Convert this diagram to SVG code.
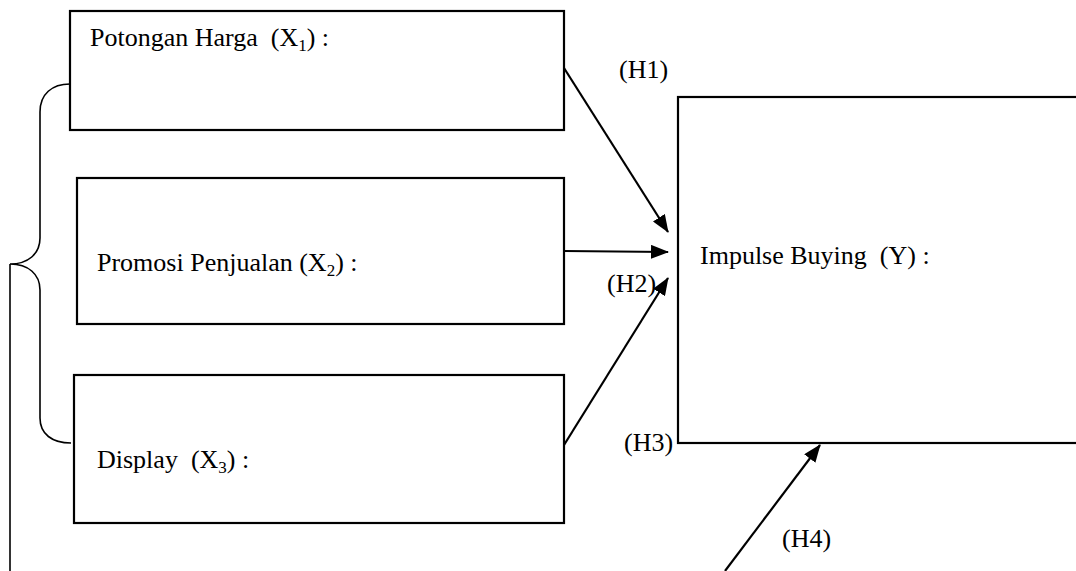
<svg xmlns="http://www.w3.org/2000/svg" width="1076" height="571" viewBox="0 0 1076 571">
<style>
.box{fill:#fff;stroke:#000;stroke-width:2.2}
.t{font-family:"Liberation Serif","Times New Roman",serif;font-size:26px;fill:#000;white-space:pre}
.sub{font-size:17px}
.conn{stroke:#000;stroke-width:2.2;fill:none}
.brace{stroke:#000;stroke-width:1.6;fill:none}
</style>
<defs>
<marker id="ah" markerUnits="userSpaceOnUse" markerWidth="18" markerHeight="14" refX="17" refY="7" orient="auto">
<path d="M0,0 L18,7 L0,14 Z" fill="#000"/>
</marker>
</defs>
<rect width="1076" height="571" fill="#fff"/>
<g id="brace">
<path class="brace" d="M70,84 C52,84 40,94 40,112 L40,238 C40,254 28,264 10,264 C28,264 40,274 40,290 L40,418 C40,434 52,443 71,443"/>
<path class="brace" d="M10,264 L10,571"/>
</g>
<g id="node-x1">
<rect class="box" x="70" y="11" width="494" height="119"/>
<text class="t" x="90" y="46" xml:space="preserve">Potongan Harga  (X<tspan class="sub" dy="5">1</tspan><tspan dy="-5">) :</tspan></text>
</g>
<g id="node-x2">
<rect class="box" x="77" y="178" width="487" height="146"/>
<text class="t" x="97" y="271" xml:space="preserve">Promosi Penjualan (X<tspan class="sub" dy="5">2</tspan><tspan dy="-5">) :</tspan></text>
</g>
<g id="node-x3">
<rect class="box" x="74" y="375" width="490" height="148"/>
<text class="t" x="97" y="468" xml:space="preserve">Display  (X<tspan class="sub" dy="5">3</tspan><tspan dy="-5">) :</tspan></text>
</g>
<g id="node-y">
<rect class="box" x="678" y="97" width="430" height="346"/>
<text class="t" x="700" y="264" xml:space="preserve">Impulse Buying  (Y) :</text>
</g>
<g id="connectors">
<line class="conn" x1="564" y1="68" x2="668" y2="232" marker-end="url(#ah)"/>
<line class="conn" x1="564" y1="251" x2="668" y2="252" marker-end="url(#ah)"/>
<line class="conn" x1="564" y1="445" x2="668" y2="278" marker-end="url(#ah)"/>
<line class="conn" x1="725" y1="571" x2="820" y2="445" marker-end="url(#ah)"/>
</g>
<g id="labels">
<text class="t" x="619" y="78">(H1)</text>
<text class="t" x="607" y="292">(H2)</text>
<text class="t" x="624" y="451">(H3)</text>
<text class="t" x="782" y="547">(H4)</text>
</g>
</svg>
